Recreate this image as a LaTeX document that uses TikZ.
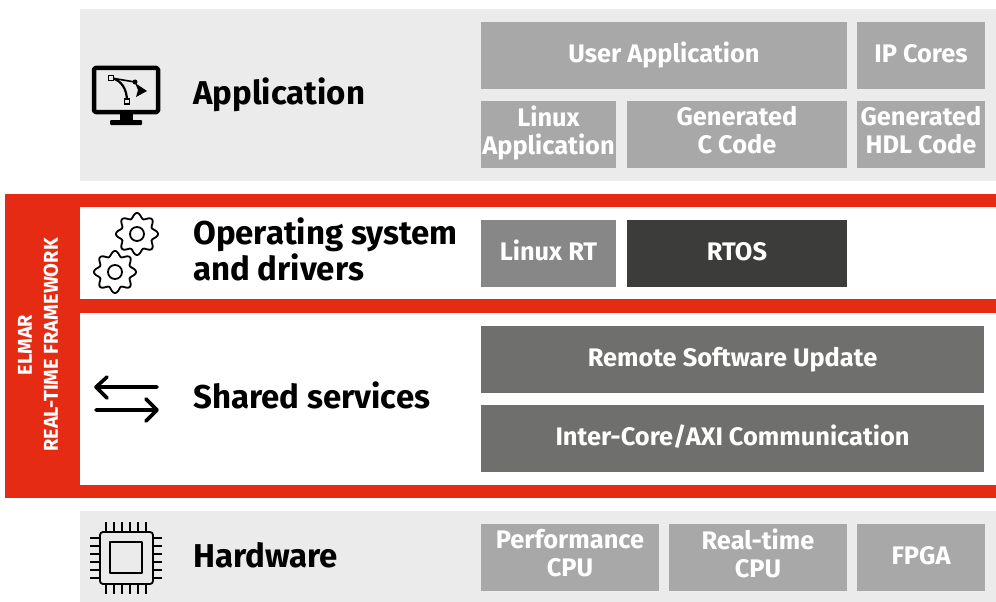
\documentclass[tikz,border=0pt]{standalone}
\usepackage{fontspec}
\setmainfont{Fira Sans}
\usetikzlibrary{positioning}
\definecolor{bandgray}{HTML}{EBEBEB}
\definecolor{framered}{HTML}{E52B13}
\definecolor{lightbox}{HTML}{A8A8A8}
\definecolor{midbox}{HTML}{878787}
\definecolor{darkbox}{HTML}{6F6F6E}
\definecolor{blackbox}{HTML}{3C3C3B}
\newcommand{\boxstrut}{\leavevmode\vrule height 22pt depth 8pt width 0pt\relax}
\newcommand{\gearicon}[2]{%
  \draw[icon line, line width=1.8pt] plot[smooth cycle, samples=81, domain=0:355.5, variable=\t]
    ({#1+(18.5+2.6*cos(8*\t))*sin(\t)}, {#2+(18.5+2.6*cos(8*\t))*cos(\t)});
  \draw[icon line, line width=1.8pt] (#1,#2) circle (7);
}
\begin{document}
\begin{tikzpicture}[x=1pt,y=-1pt,node distance=10pt,
    band/.style={fill=#1,draw=none},
    box/.style={fill=#1,text=white,font=\fontsize{25.4}{28}\selectfont\bfseries,
      align=center,inner sep=0pt,outer sep=0pt,minimum height=66.5pt,
      execute at begin node=\boxstrut,execute at end node=\boxstrut},
    title/.style={anchor=west,align=left,inner sep=0pt,font=\fontsize{33}{36}\selectfont\bfseries},
    icon line/.style={draw=black,line cap=round,line join=round}]
    \useasboundingbox (0,0) rectangle (996,602);
    % bands
    \fill[band=bandgray] (80,9) rectangle (996,181);
    \fill[band=framered] (5,194) rectangle (996,498);
    \fill[band=white] (80,207) rectangle (996,299);
    \fill[band=white] (80,313) rectangle (996,485);
    \fill[band=bandgray] (80,511) rectangle (996,602);
    % frame label
    \node[rotate=90,text=white,align=center,inner sep=0pt,font=\fontsize{20}{26}\selectfont\bfseries]
      (framelabel) at (38,345) {ELMAR\\REAL-TIME FRAMEWORK};
    % titles
    \node[title] (application) at (193,95) {Application};
    \node[title] (os) at (193,249) {Operating system\\and drivers};
    \node[title] (shared) at (193,395) {Shared services};
    \node[title] (hardware) at (193,555) {Hardware};
    % application boxes
    \node[box=lightbox,minimum width=366pt,anchor=north west] (user) at (481,22) {User Application};
    \node[box=lightbox,minimum width=128pt] (ip) [right=of user] {IP Cores};
    \node[box=lightbox,minimum width=135pt,anchor=north west] (linuxapp) at (481,101) {Linux\\Application};
    \node[box=lightbox,minimum width=220pt] (ccode) [right=11pt of linuxapp] {Generated\\C Code};
    \node[box=lightbox,minimum width=128pt] (hdl) [right=of ccode] {Generated\\HDL Code};
    % operating system boxes
    \node[box=midbox,minimum width=135pt,anchor=north west] (linuxrt) at (481,220) {Linux RT};
    \node[box=blackbox,minimum width=220pt] (rtos) [right=11pt of linuxrt] {RTOS};
    % shared services boxes
    \node[box=darkbox,minimum width=503pt,anchor=north west] (update) at (481,326) {Remote Software Update};
    \node[box=darkbox,minimum width=503pt] (axi) [below=12.5pt of update] {Inter-Core/AXI Communication};
    % hardware boxes
    \node[box=lightbox,minimum width=178pt,anchor=north west] (perf) at (481,524) {Performance\\CPU};
    \node[box=lightbox,minimum width=178pt] (realtime) [right=of perf] {Real-time\\CPU};
    \node[box=lightbox,minimum width=128pt] (fpga) [right=of realtime] {FPGA};
    % monitor icon
    \draw[icon line,line width=4.5pt,rounded corners=1.5pt] (94,68) rectangle (158,112);
    \fill (120,113) rectangle (133,122);
    \fill[rounded corners=1pt] (110,120) rectangle (142,125);
    \draw[icon line,line width=2.2pt] (111,78) .. controls (122,80) and (127,90) .. (127,101);
    \draw[icon line,line width=1.6pt] (111,78) -- (135,82);
    \fill (135,82) circle (2.5);
    \fill (135,83) -- (147,91) -- (136,97) -- (138,90) -- cycle;
    \draw[black,line width=1.8pt,fill=bandgray] (108.5,75.5) rectangle (113.5,80.5);
    \draw[black,line width=1.8pt,fill=bandgray] (124.5,99) rectangle (129.5,104);
    % gear icons
    \gearicon{137}{234}
    \gearicon{115}{272}
    % exchange icon
    \draw[icon line,line width=3.6pt] (157,387) -- (96,387) (107,377) -- (96,387) -- (107,398);
    \draw[icon line,line width=3.6pt] (96,410) -- (157,410) (146,399) -- (157,410) -- (146,421);
    % chip icon
    \draw[icon line,line width=1.8pt,rounded corners=3pt] (100,532) rectangle (153,584);
    \draw[icon line,line width=1.8pt,line cap=butt] (110,542) rectangle (142,573);
    \foreach \i in {106,114,...,146}
      \draw[black,line width=1.6pt] (\i,522) -- (\i,532) (\i,584) -- (\i,594);
    \foreach \j in {538,546,...,578}
      \draw[black,line width=1.6pt] (90,\j) -- (100,\j) (153,\j) -- (162,\j);
\end{tikzpicture}
\end{document}
